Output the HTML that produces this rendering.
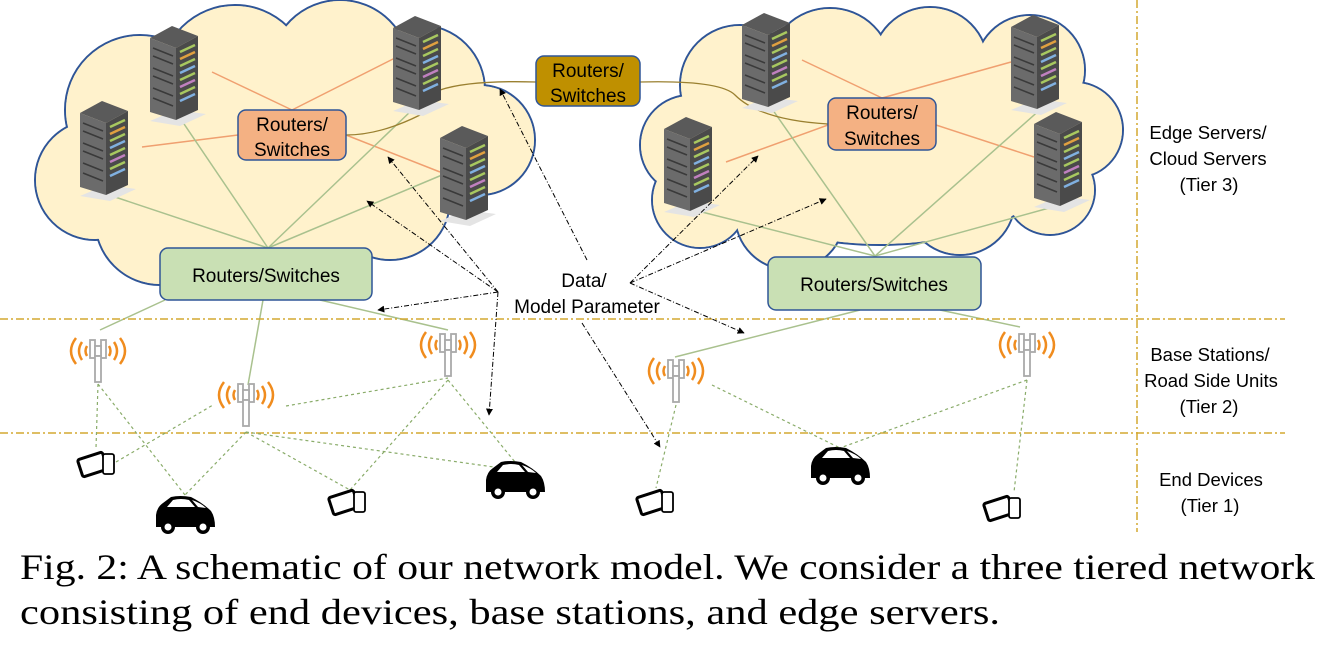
<!DOCTYPE html>
<html><head><meta charset="utf-8"><style>
body{margin:0;background:#fff;width:1327px;height:647px;overflow:hidden}
svg{display:block}
.t{font-family:"Liberation Sans","DejaVu Sans",sans-serif;fill:#000}
.cap{font-family:"Liberation Serif","Times New Roman",serif;font-size:36px;fill:#000}
</style></head><body>
<svg width="1327" height="647" viewBox="0 0 1327 647" xmlns="http://www.w3.org/2000/svg">
<defs>
<g id="srv">
<polygon points="0,95 30,100 56,88 26,84" fill="#e4e4e4"/>
<polygon points="0,12 22,0 48,10 26,22" fill="#5a5a5a"/>
<polygon points="0,12 26,22 26,94 0,86" fill="#6b6b6b"/>
<polygon points="26,22 48,10 48,84 26,94" fill="#4a4a4a"/>
<g stroke="#3a3a3a" stroke-width="1.5">
<line x1="3" y1="22" x2="23" y2="30"/><line x1="3" y1="30" x2="23" y2="38"/><line x1="3" y1="42" x2="23" y2="50"/><line x1="3" y1="50" x2="23" y2="58"/><line x1="3" y1="62" x2="23" y2="70"/><line x1="3" y1="72" x2="23" y2="80"/>
</g>
<g stroke-width="2.5">
<line x1="30" y1="26" x2="45" y2="19" stroke="#a8c860"/><line x1="30" y1="33" x2="45" y2="26" stroke="#e0a040"/><line x1="30" y1="40" x2="45" y2="33" stroke="#a8c860"/><line x1="30" y1="47" x2="45" y2="40" stroke="#80b0e0"/><line x1="30" y1="54" x2="45" y2="47" stroke="#a8c860"/><line x1="30" y1="61" x2="45" y2="54" stroke="#c080c0"/><line x1="30" y1="68" x2="45" y2="61" stroke="#a8c860"/><line x1="30" y1="75" x2="45" y2="68" stroke="#80b0e0"/>
</g>
</g>
<g id="tow">
<g fill="none" stroke="#f08c1e" stroke-width="2.5">
<path d="M-22,-20 Q-32,-7 -22,6"/><path d="M-16,-16 Q-22,-7 -16,2"/><path d="M-11,-12 Q-14,-7 -11,-2"/>
<path d="M22,-20 Q32,-7 22,6"/><path d="M16,-16 Q22,-7 16,2"/><path d="M11,-12 Q14,-7 11,-2"/>
</g>
<g fill="#fff" stroke="#aaa" stroke-width="1.8">
<rect x="-8" y="-18" width="5" height="18"/><rect x="3" y="-18" width="5" height="18"/><rect x="-3" y="-12" width="6" height="10"/><rect x="-3" y="-2" width="6" height="26"/>
</g>
</g>
<g id="car">
<path d="M-29,12 L-29,0 Q-28,-8 -22,-12 L-14,-18 Q-5,-20 6,-18 Q18,-12 26,-4 Q30,2 30,12 Z" fill="#000"/>
<path d="M-18,-8 L-12,-15 Q-4,-17 4,-15 L10,-8 Z" fill="#fff"/>
<path d="M13,-8 L7,-15 Q16,-12 21,-7 Z" fill="#fff"/>
<circle cx="-17" cy="12" r="7" fill="#000"/><circle cx="-17" cy="12" r="3.5" fill="#fff"/>
<circle cx="18" cy="12" r="7" fill="#000"/><circle cx="18" cy="12" r="3.5" fill="#fff"/>
</g>
<g id="ph">
<rect x="-18" y="-8" width="26" height="18" rx="2" transform="rotate(-18)" fill="#fff" stroke="#000" stroke-width="3"/>
<rect x="6" y="-8" width="11" height="20" rx="2" fill="#fff" stroke="#000" stroke-width="1.8"/>
</g>
<marker id="ah" viewBox="0 0 10 10" refX="9" refY="5" markerWidth="7" markerHeight="7" orient="auto"><path d="M0,0 L10,5 L0,10 Z" fill="#000"/></marker>
</defs>

<!-- left cloud -->
<g stroke="#2f5597" stroke-width="2" fill="#fff2cc">
<circle cx="140" cy="110" r="75"/><circle cx="235" cy="80" r="75"/><circle cx="340" cy="70" r="70"/><circle cx="420" cy="90" r="65"/><circle cx="480" cy="140" r="55"/><circle cx="95" cy="180" r="60"/><circle cx="160" cy="220" r="65"/><circle cx="270" cy="230" r="60"/><circle cx="390" cy="200" r="60"/><ellipse cx="285" cy="150" rx="200" ry="105"/>
</g>
<g fill="#fff2cc">
<circle cx="140" cy="110" r="74"/><circle cx="235" cy="80" r="74"/><circle cx="340" cy="70" r="69"/><circle cx="420" cy="90" r="64"/><circle cx="480" cy="140" r="54"/><circle cx="95" cy="180" r="59"/><circle cx="160" cy="220" r="64"/><circle cx="270" cy="230" r="59"/><circle cx="390" cy="200" r="59"/><ellipse cx="285" cy="150" rx="199" ry="104"/>
</g>
<!-- right cloud -->
<g stroke="#2f5597" stroke-width="2" fill="#fff2cc">
<circle cx="740" cy="85" r="60"/><circle cx="830" cy="70" r="62"/><circle cx="930" cy="65" r="58"/><circle cx="1030" cy="70" r="55"/><circle cx="1075" cy="130" r="48"/><circle cx="690" cy="145" r="50"/><circle cx="700" cy="200" r="48"/><circle cx="790" cy="215" r="55"/><circle cx="960" cy="200" r="55"/><circle cx="1050" cy="190" r="45"/><ellipse cx="880" cy="145" rx="190" ry="100"/>
</g>
<g fill="#fff2cc">
<circle cx="740" cy="85" r="59"/><circle cx="830" cy="70" r="61"/><circle cx="930" cy="65" r="57"/><circle cx="1030" cy="70" r="54"/><circle cx="1075" cy="130" r="47"/><circle cx="690" cy="145" r="49"/><circle cx="700" cy="200" r="47"/><circle cx="790" cy="215" r="54"/><circle cx="960" cy="200" r="54"/><circle cx="1050" cy="190" r="44"/><ellipse cx="880" cy="145" rx="189" ry="99"/>
</g>

<!-- orange lines -->
<g stroke="#f0a070" stroke-width="1.5">
<line x1="212" y1="72" x2="292" y2="110"/><line x1="292" y1="110" x2="395" y2="58"/><line x1="142" y1="147" x2="238" y2="135"/><line x1="346" y1="135" x2="440" y2="172"/>
<line x1="802" y1="60" x2="882" y2="98"/><line x1="882" y1="98" x2="1011" y2="62"/><line x1="726" y1="162" x2="828" y2="125"/><line x1="936" y1="125" x2="1034" y2="157"/>
</g>
<!-- green lines -->
<g stroke="#a9c18e" stroke-width="1.5">
<line x1="268" y1="248" x2="180" y2="118"/><line x1="268" y1="248" x2="412" y2="110"/><line x1="268" y1="248" x2="100" y2="192"/><line x1="268" y1="248" x2="442" y2="175"/>
<line x1="875" y1="256" x2="770" y2="106"/><line x1="875" y1="256" x2="1042" y2="108"/><line x1="875" y1="256" x2="694" y2="210"/><line x1="875" y1="256" x2="1060" y2="205"/>
<line x1="100" y1="330" x2="165" y2="300"/><line x1="263" y1="300" x2="248" y2="385"/><line x1="320" y1="300" x2="448" y2="330"/>
<line x1="675" y1="357" x2="860" y2="310"/><line x1="940" y1="310" x2="1020" y2="327"/>
</g>
<!-- olive links to gold router -->
<g fill="none" stroke="#9a8030" stroke-width="1.3">
<path d="M536,82 Q470,80 440,90 Q400,110 420,115 Q380,135 346,135"/>
<path d="M640,82 Q720,80 735,95 Q760,120 828,124"/>
</g>

<!-- servers -->
<use href="#srv" x="150" y="26"/><use href="#srv" x="393" y="16"/><use href="#srv" x="80" y="101"/><use href="#srv" x="440" y="126"/>
<use href="#srv" x="742" y="13"/><use href="#srv" x="1011" y="15"/><use href="#srv" x="664" y="117"/><use href="#srv" x="1034" y="112"/>

<!-- router boxes -->
<g class="t" font-size="19" text-anchor="middle">
<rect x="238" y="110" width="108" height="50" rx="8" fill="#f4b183" stroke="#2f5597" stroke-width="1.5"/>
<text x="292" y="131">Routers/</text><text x="292" y="156">Switches</text>
<rect x="828" y="98" width="108" height="52" rx="8" fill="#f4b183" stroke="#2f5597" stroke-width="1.5"/>
<text x="882" y="119">Routers/</text><text x="882" y="145">Switches</text>
<rect x="536" y="56" width="104" height="50" rx="8" fill="#bf9000" stroke="#2f5597" stroke-width="1.5"/>
<text x="588" y="77">Routers/</text><text x="588" y="102">Switches</text>
<rect x="160" y="248" width="212" height="52" rx="8" fill="#c9e0b4" stroke="#2f5597" stroke-width="1.5"/>
<text x="266" y="282">Routers/Switches</text>
<rect x="768" y="257" width="213" height="53" rx="8" fill="#c9e0b4" stroke="#2f5597" stroke-width="1.5"/>
<text x="874" y="291">Routers/Switches</text>
</g>

<!-- tier lines -->
<g stroke="#d4a830" stroke-width="1.5" stroke-dasharray="8,3,2,3">
<line x1="0" y1="319" x2="1285" y2="319"/><line x1="0" y1="433" x2="1285" y2="433"/>
</g>
<line x1="1137" y1="0" x2="1137" y2="532" stroke="#d4a830" stroke-width="1.5" stroke-dasharray="8,3,2,3"/>

<!-- device dashed links -->
<g stroke="#8aac6a" stroke-width="1.2" stroke-dasharray="3,3">
<line x1="98" y1="384" x2="96" y2="448"/><line x1="98" y1="384" x2="185" y2="495"/><line x1="116" y1="462" x2="213" y2="405"/><line x1="246" y1="432" x2="185" y2="495"/><line x1="246" y1="432" x2="350" y2="490"/><line x1="286" y1="406" x2="448" y2="378"/><line x1="448" y1="380" x2="350" y2="490"/><line x1="448" y1="380" x2="515" y2="462"/><line x1="246" y1="432" x2="515" y2="470"/>
<line x1="676" y1="405" x2="656" y2="488"/><line x1="712" y1="385" x2="840" y2="448"/><line x1="1027" y1="380" x2="840" y2="448"/><line x1="1027" y1="380" x2="1014" y2="492"/>
</g>

<!-- towers -->
<use href="#tow" x="98" y="358"/><use href="#tow" x="448" y="352"/><use href="#tow" x="246" y="402"/><use href="#tow" x="676" y="378"/><use href="#tow" x="1027" y="352"/>
<!-- cars & phones -->
<use href="#car" x="185" y="515"/><use href="#car" x="515" y="480"/><use href="#car" x="840" y="466"/>
<use href="#ph" x="97" y="462"/><use href="#ph" x="348" y="500"/><use href="#ph" x="656" y="500"/><use href="#ph" x="1003" y="506"/>

<!-- data arrows -->
<g stroke="#000" stroke-width="1" stroke-dasharray="5,2,1,2" fill="none" marker-end="url(#ah)">
<line x1="498" y1="292" x2="388" y2="157"/><line x1="498" y1="292" x2="367" y2="201"/><line x1="498" y1="292" x2="378" y2="310"/><line x1="498" y1="292" x2="489" y2="415"/>
<line x1="587" y1="260" x2="500" y2="89"/><line x1="582" y1="323" x2="660" y2="447"/>
<line x1="630" y1="283" x2="758" y2="156"/><line x1="630" y1="283" x2="826" y2="199"/><line x1="630" y1="283" x2="744" y2="333"/>
</g>
<text class="t" x="584" y="287" font-size="19" text-anchor="middle">Data/</text>
<text class="t" x="587" y="313" font-size="19" text-anchor="middle">Model Parameter</text>

<!-- tier labels -->
<g class="t" font-size="18.5" text-anchor="middle">
<text x="1208" y="139">Edge Servers/</text><text x="1208" y="165">Cloud Servers</text><text x="1209" y="191">(Tier 3)</text>
<text x="1210" y="361">Base Stations/</text><text x="1211" y="387">Road Side Units</text><text x="1209" y="413">(Tier 2)</text>
<text x="1211" y="486">End Devices</text><text x="1210" y="512">(Tier 1)</text>
</g>

<text class="cap" x="20" y="579" textLength="1295" lengthAdjust="spacingAndGlyphs">Fig. 2: A schematic of our network model. We consider a three tiered network</text>
<text class="cap" x="20" y="624" textLength="980" lengthAdjust="spacingAndGlyphs">consisting of end devices, base stations, and edge servers.</text>
</svg>
</body></html>
